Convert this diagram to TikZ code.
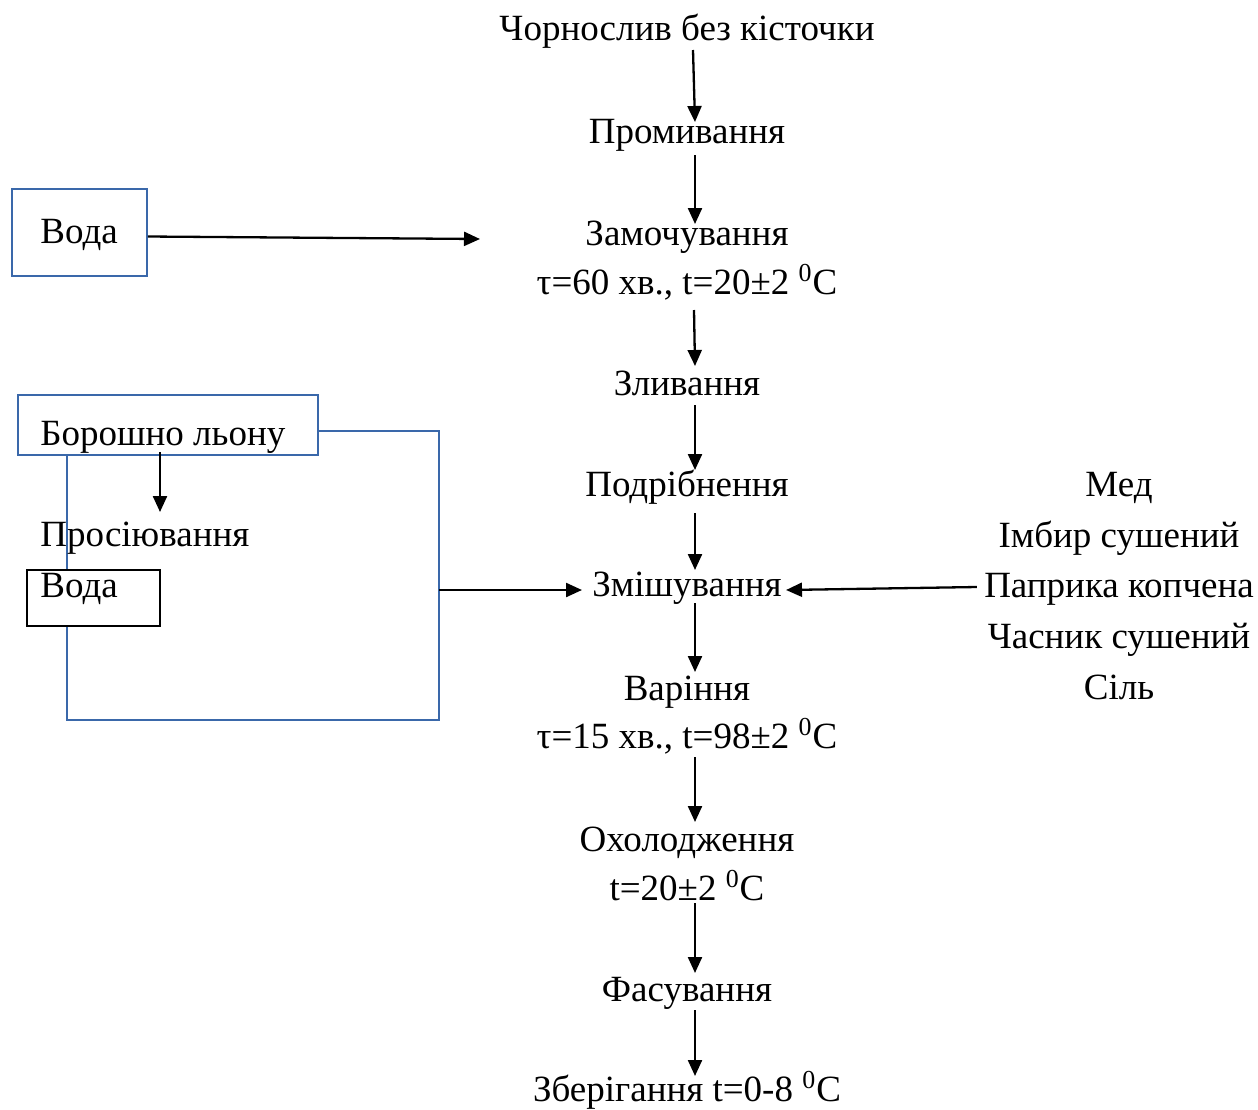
\documentclass[tikz,border=0pt]{standalone}
\usepackage{fontspec}
\setmainfont{Liberation Serif}
\usetikzlibrary{arrows.meta,calc}
\definecolor{frameblue}{RGB}{58,104,170}
\begin{document}
\begin{tikzpicture}[x=0.5pt,y=-0.5pt,
  lbl/.style={font=\fontsize{18.5}{22}\selectfont, inner sep=0pt, anchor=base},
  lbll/.style={lbl, anchor=base west},
  arr/.style={-{Triangle[length=8pt,width=7pt]}, line width=1.15pt},
  bluebox/.style={draw=frameblue, line width=0.9pt, inner sep=0pt},
  blackbox/.style={draw=black, fill=white, line width=0.9pt, inner sep=0pt},
  blueline/.style={draw=frameblue, line width=0.9pt}
  ]
\useasboundingbox (0,0) rectangle (1258,1109);
\coordinate (ax) at (695,0);

% main column
\node[lbl] (s1) at (687,40) {Чорнослив без кісточки};
\node[lbl] (s2) at (687,143) {Промивання};
\node[lbl] (s3) at (687,245) {Замочування};
\node[lbl] (s3b) at (687,294) {τ=60 хв., t=20±2 \textsuperscript{0}C};
\node[lbl] (s4) at (687,395) {Зливання};
\node[lbl] (s5) at (687,496) {Подрібнення};
\node[lbl] (s6) at (687,596) {Змішування};
\node[lbl] (s7) at (687,700) {Варіння};
\node[lbl] (s7b) at (687,748) {τ=15 хв., t=98±2 \textsuperscript{0}C};
\node[lbl] (s8) at (687,851) {Охолодження};
\node[lbl] (s8b) at (687,900) {t=20±2 \textsuperscript{0}C};
\node[lbl] (s9) at (687,1001) {Фасування};
\node[lbl] (s10) at (687,1101) {Зберігання t=0-8 \textsuperscript{0}C};

\draw[arr] ($(s1.base -| ax)+(-2,10)$) -- ($(s2.base -| ax)+(0,-21)$);
\draw[arr] ($(s2.base -| ax)+(0,12)$) -- ($(s3.base -| ax)+(0,-21)$);
\draw[arr] ($(s3b.base -| ax)+(-1,16)$) -- ($(s4.base -| ax)+(0,-29)$);
\draw[arr] ($(s4.base -| ax)+(0,10)$) -- ($(s5.base -| ax)+(0,-26)$);
\draw[arr] ($(s5.base -| ax)+(0,17)$) -- ($(s6.base -| ax)+(0,-26)$);
\draw[arr] ($(s6.base -| ax)+(0,7)$) -- ($(s7.base -| ax)+(0,-28)$);
\draw[arr] ($(s7b.base -| ax)+(0,9)$) -- ($(s8.base -| ax)+(0,-29)$);
\draw[arr] ($(s8b.base -| ax)+(0,3)$) -- ($(s9.base -| ax)+(0,-28)$);
\draw[arr] ($(s9.base -| ax)+(0,9)$) -- ($(s10.base -| ax)+(0,-25)$);

% water box top left
\node[bluebox, minimum width=67.5pt, minimum height=43.5pt] (vb1) at (79.5,232.5) {};
\node[lbll] (voda1) at (40,243) {Вода};
\coordinate (m1) at (480,239);
\draw[arr] ($(vb1.east)+(0,4)$) -- (m1);

% flour group
\node[bluebox, minimum width=150pt, minimum height=30pt] (bb) at (168,425) {};
\draw[blueline] ($(bb.east)+(0,6)$) -- (439,431) -- (439,720) -- (67,720) -- (67,455);
\node[lbll] (bor) at (40,445) {Борошно льону};
\draw[arr] (160,452) -- (160,512);
\node[lbll] (pros) at (40,546) {Просіювання};
\node[blackbox, minimum width=66.5pt, minimum height=28pt] (vb2) at (93.5,598) {};
\node[lbll] (voda2) at (40,597) {Вода};
\coordinate (fr) at (439,590);
\draw[arr] (fr) -- (582,590);

% right list
\node[lbl] (r1) at (1119,496) {Мед};
\node[lbl] (r2) at (1119,547) {Імбир сушений};
\node[lbl] (r3) at (1119,597) {Паприка копчена};
\node[lbl] (r4) at (1119,648) {Часник сушений};
\node[lbl] (r5) at (1119,699) {Сіль};
\draw[arr] ($(r3.base west)+(-7,-10)$) -- ($(s6.base east)+(4,-6)$);
\end{tikzpicture}
\end{document}
